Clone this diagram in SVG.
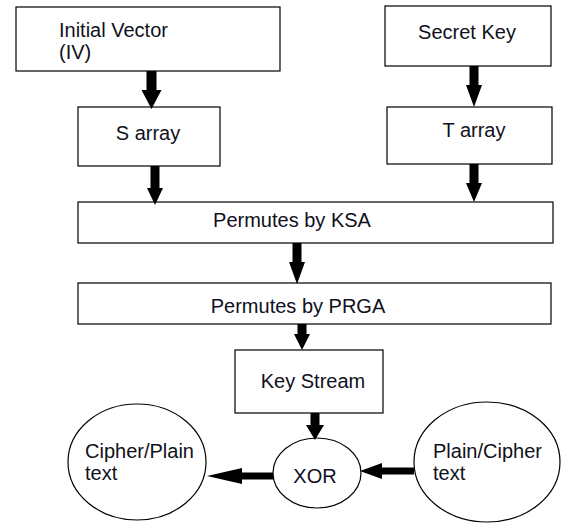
<svg xmlns="http://www.w3.org/2000/svg" width="565" height="524" viewBox="0 0 565 524">
<style>
.box{fill:#fff;stroke:#000;stroke-width:1.2}
.t{font-family:"Liberation Sans",Arial,sans-serif;font-size:20px;fill:#101020}
.c{text-anchor:middle}
.arr{fill:#000;stroke:none}
</style>
<rect width="565" height="524" fill="#fff"/>
<g id="iv"><rect class="box" x="16" y="7" width="264" height="64"/><text class="t" x="59" y="37">Initial Vector</text><text class="t" x="59" y="59">(IV)</text></g>
<g id="secret"><rect class="box" x="385" y="6" width="166" height="60"/><text class="t c" x="467" y="39">Secret Key</text></g>
<g id="sarray"><rect class="box" x="78" y="107" width="142" height="59"/><text class="t c" x="148" y="140">S array</text></g>
<g id="tarray"><rect class="box" x="387" y="107" width="165" height="57"/><text class="t c" x="474" y="137">T array</text></g>
<g id="ksa"><rect class="box" x="78" y="202" width="475" height="41"/><text class="t c" x="292" y="227">Permutes by KSA</text></g>
<g id="prga"><rect class="box" x="78" y="283" width="473" height="41"/><text class="t c" x="298" y="313">Permutes by PRGA</text></g>
<g id="keystream"><rect class="box" x="235" y="350" width="148" height="63"/><text class="t c" x="313" y="388">Key Stream</text></g>
<g id="xor"><ellipse class="box" cx="317" cy="473" rx="44" ry="35"/><text class="t c" x="315" y="483">XOR</text></g>
<g id="cipherplain"><ellipse class="box" cx="137" cy="462" rx="69" ry="58"/><text class="t" x="85" y="458">Cipher/Plain</text><text class="t" x="85" y="480">text</text></g>
<g id="plaincipher"><ellipse class="box" cx="487" cy="462" rx="73" ry="60"/><text class="t" x="433" y="458">Plain/Cipher</text><text class="t" x="433" y="480">text</text></g>
<g id="connectors">
<path class="arr" d="M146.5,71 H156.5 V90 H161.5 L151.5,109 L141.5,90 H146.5 Z"/>
<path class="arr" d="M150.5,166 H159.5 V188 H163 L155,205 L147,188 H150.5 Z"/>
<path class="arr" d="M469.5,66 H478.5 V85 H482 L474,107 L466,85 H469.5 Z"/>
<path class="arr" d="M469.5,164 H478.5 V183 H482 L474,202 L466,183 H469.5 Z"/>
<path class="arr" d="M292.5,243 H301.5 V262 H305 L297,284 L289,262 H292.5 Z"/>
<path class="arr" d="M297.5,324 H306.5 V334 H310 L302,350 L294,334 H297.5 Z"/>
<path class="arr" d="M310.5,413 H319.5 V425 H324 L315,440 L306,425 H310.5 Z"/>
<path class="arr" d="M273,472.5 V479.5 H242 V484 L207,476 L242,468 V472.5 Z"/>
<path class="arr" d="M414,467.5 V474.5 H382 V479 L360,471 L382,463 V467.5 Z"/>
</g>
</svg>
